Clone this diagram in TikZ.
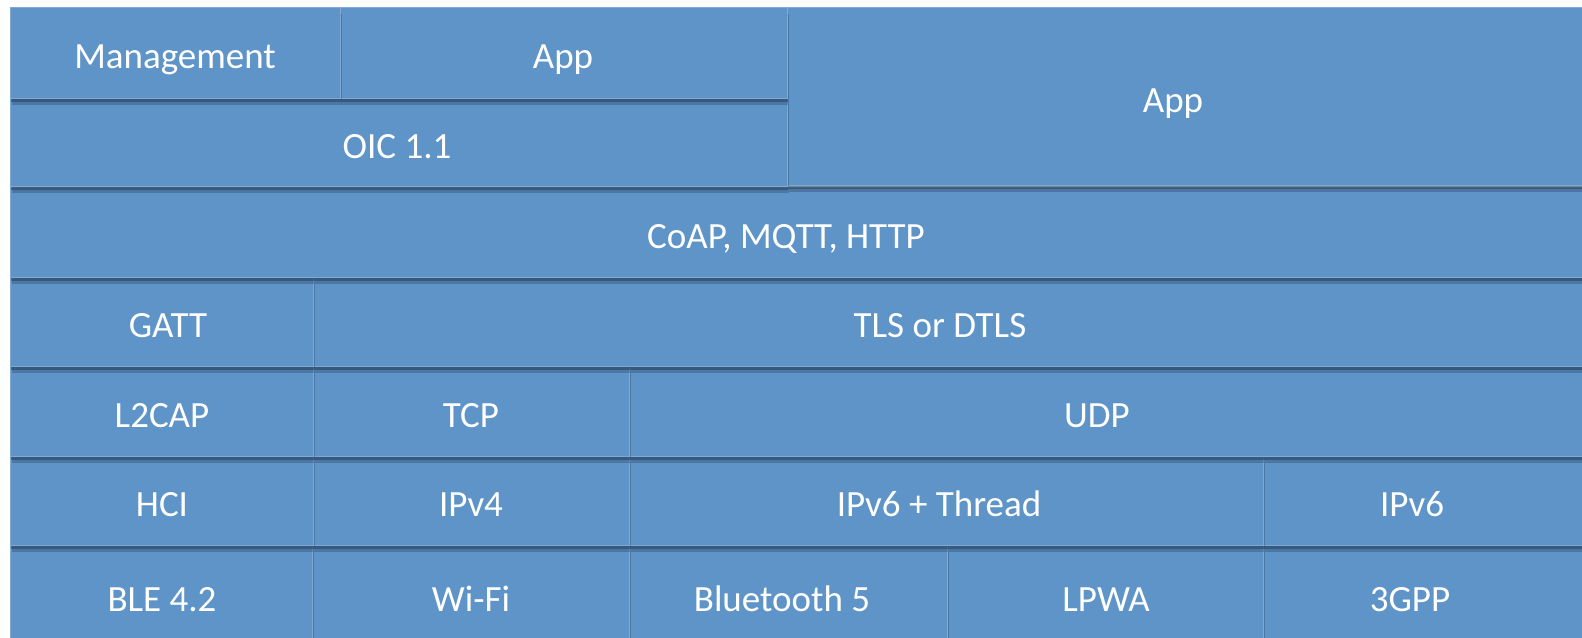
\documentclass[tikz,border=0pt]{standalone}
\usepackage{fontspec}
\setmainfont{Carlito}
\usetikzlibrary{shadows}
\definecolor{stackblue}{HTML}{5E94C7}
\definecolor{stackedge}{HTML}{7FA8D2}
\definecolor{stackshade}{HTML}{1F3550}

\begin{document}
\begin{tikzpicture}[x=0.5pt, y=-0.5pt,
    layer/.style={draw=stackedge, line width=0.4pt, fill=stackblue, inner sep=0pt,
      drop shadow={shadow xshift=1.2pt, shadow yshift=-3.4pt, fill=stackshade, opacity=0.3},
      drop shadow={shadow xshift=0.6pt, shadow yshift=-2pt, fill=stackshade, opacity=0.45}},
    layertext/.style={anchor=base, text=white, inner sep=0pt,
      font=\fontsize{18.5}{22}\selectfont}]
  \useasboundingbox (0,0) rectangle (1582,637);
  % name / left / top / right / bottom / text x / text
  % lowest row first, so every shadow falls on the row below
  \foreach \nm/\xa/\ya/\xb/\yb/\tx/\txt in {
      gpp3/1263/545/1600/645/1410/3GPP,
      lpwa/947/545/1263/645/1106/LPWA,
      bt5/629/545/947/645/782/Bluetooth 5,
      wifi/312/545/629/645/471/Wi-Fi,
      ble/10/545/312/645/162/BLE 4.2,
      ipv6/1263/456/1600/545/1412/IPv6,
      ipv6t/629/456/1263/545/939/IPv6 + Thread,
      ipv4/313/456/629/545/471/IPv4,
      hci/10/456/313/545/162/HCI,
      udp/629/366/1600/456/1097/UDP,
      tcp/313/366/629/456/471/TCP,
      l2cap/10/366/313/456/162/L2CAP,
      tls/313/277/1600/366/940/TLS or DTLS,
      gatt/10/277/313/366/168/GATT,
      coap/10/187/1600/277/786/{CoAP, MQTT, HTTP},
      appr/787/7/1600/185/1173/App,
      oic/10/98/787/186/397/OIC 1.1,
      app/340/7/787/98/563/App,
      mgmt/10/7/340/98/175/Management}
  {
    \pgfmathsetmacro{\w}{(\xb-\xa)/2}
    \pgfmathsetmacro{\h}{(\yb-\ya)/2}
    \node[layer, minimum width=\w pt, minimum height=\h pt] (\nm)
      at ({(\xa+\xb)/2},{(\ya+\yb)/2}) {};
    \node[layertext] (\nm-text) at (\tx,{(\ya+\yb)/2+16}) {\txt};
  }
\end{tikzpicture}
\end{document}
